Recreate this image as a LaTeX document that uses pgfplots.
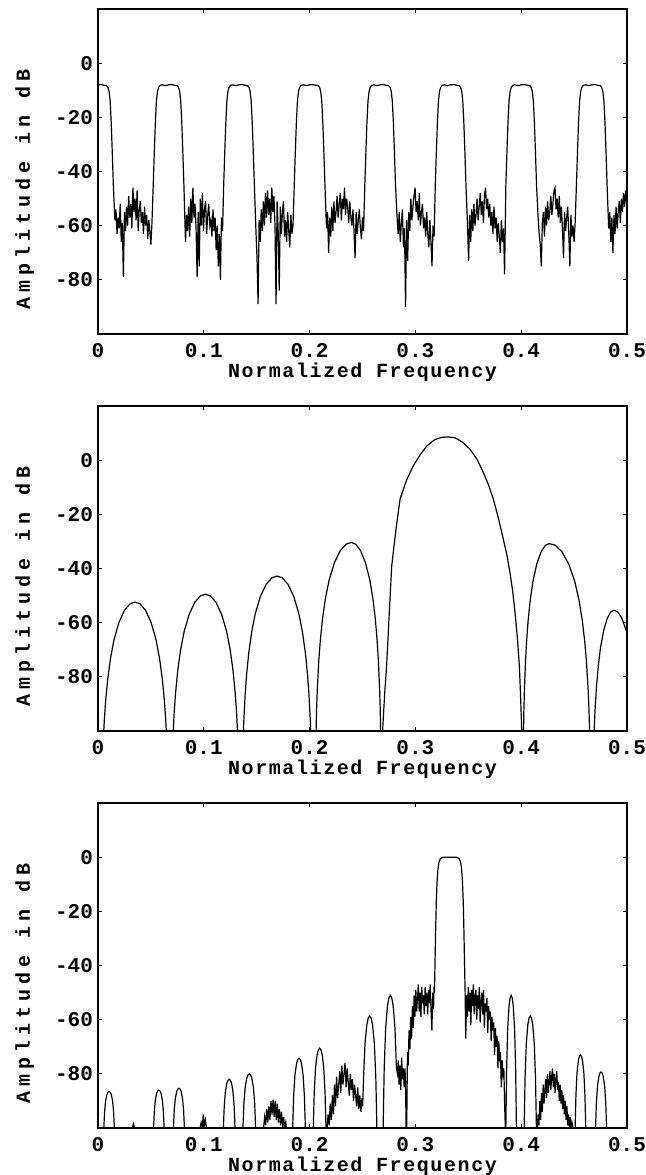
\documentclass[border=0pt]{standalone}
\usepackage{fontspec}
\setmainfont{Liberation Mono}
\usepackage{pgfplots}
\pgfplotsset{compat=1.18}
\pgfplotsset{myax/.style={
  width=264.5pt, height=162.5pt, scale only axis,
  xmin=0, xmax=0.5, ymin=-100, ymax=20,
  xtick={0,0.1,0.2,0.3,0.4,0.5}, xticklabels={0,0.1,0.2,0.3,0.4,0.5},
  ytick={-80,-60,-40,-20,0}, yticklabels={-80,-60,-40,-20,0},
  tick align=inside, major tick length=2pt,
  tick style={black, line width=0.5pt},
  axis line style={line width=0.8pt},
  tick label style={font=\fontsize{10.5pt}{12pt}\selectfont},
  xticklabel style={anchor=base, yshift=-11.6pt},
  yticklabel style={xshift=1pt},
  xlabel={Normalized Frequency},
  ylabel={Amplitude in dB},
  xlabel style={at={([yshift=-21.65pt]axis description cs:0.5,0)}, anchor=base, font={\addfontfeatures{LetterSpace=8}}},
  ylabel style={at={([xshift=-34pt,yshift=-8.75pt]axis description cs:0,0.5)}, anchor=base, font={\addfontfeatures{LetterSpace=25}}},
  cycle list={{black, mark=none, line width=0.6pt}},
}}
\begin{document}
\bfseries
\begin{tikzpicture}
\useasboundingbox (-49pt,-23.5pt) rectangle (273.5pt,564pt);
% ---------------- panel 1 ----------------
\begin{axis}[myax, at={(0pt,397pt)}, anchor=south west]
\addplot[black, mark=none, line width=0.6pt] coordinates {
(0,-8) (0.003,-7.9) (0.006,-8.2) (0.008,-8.3) (0.0095,-9) (0.0105,-10.5) (0.0115,-14) (0.0125,-22) (0.0135,-33) (0.0145,-45)
(0.016,-58) (0.017,-54) (0.018,-63) (0.019,-57) (0.020,-61) (0.021,-52) (0.022,-66) (0.023,-59) (0.024,-79) (0.025,-55) (0.026,-62) (0.027,-53) (0.028,-60) (0.029,-49) (0.030,-57) (0.031,-52) (0.032,-61) (0.033,-46) (0.034,-55) (0.035,-50) (0.036,-58) (0.037,-47) (0.038,-62) (0.039,-54) (0.040,-51) (0.041,-59) (0.042,-55) (0.043,-63) (0.044,-53) (0.045,-60) (0.046,-56) (0.047,-65) (0.048,-58) (0.049,-62) (0.050,-67) (0.051,-59)
(0.0522,-45) (0.0532,-33) (0.0542,-22) (0.0552,-14) (0.0562,-10.5) (0.0572,-9) (0.0587,-8.2) (0.0607,-8) (0.0637,-8.3) (0.0667,-8) (0.0697,-7.9) (0.0727,-8.2) (0.0747,-8.3) (0.0762,-9) (0.0772,-10.5) (0.0782,-14) (0.0792,-22) (0.0802,-33) (0.0812,-45)
(0.0827,-66) (0.0837,-56) (0.0847,-62) (0.0857,-53) (0.0867,-64) (0.0877,-50) (0.0887,-59) (0.0897,-46) (0.0907,-57) (0.0917,-52) (0.0927,-61) (0.0937,-79) (0.0947,-55) (0.0957,-75) (0.0967,-50) (0.0977,-60) (0.0987,-48) (0.0997,-62) (0.1007,-54) (0.1017,-51) (0.1027,-63) (0.1037,-56) (0.1047,-52) (0.1057,-60) (0.1067,-58) (0.1077,-64) (0.1087,-54) (0.1097,-62) (0.1107,-57) (0.1117,-69) (0.1127,-60) (0.1137,-75) (0.1147,-63) (0.1157,-80) (0.1167,-57) (0.1177,-62)
(0.1188,-45) (0.1198,-33) (0.1208,-22) (0.1218,-14) (0.1228,-10.5) (0.1238,-9) (0.1253,-8.2) (0.1273,-8) (0.1303,-8.3) (0.1333,-8) (0.1363,-7.9) (0.1393,-8.2) (0.1413,-8.3) (0.1428,-9) (0.1438,-10.5) (0.1448,-14) (0.1458,-22) (0.1468,-33) (0.1478,-45)
(0.1493,-62) (0.1503,-72) (0.1513,-89) (0.1523,-58) (0.1533,-66) (0.1543,-54) (0.1553,-62) (0.1563,-51) (0.1573,-60) (0.1583,-48) (0.1593,-57) (0.1603,-47) (0.1613,-56) (0.1623,-50) (0.1633,-59) (0.1643,-46) (0.1653,-55) (0.1663,-49) (0.1673,-60) (0.1683,-89) (0.1693,-51) (0.1703,-62) (0.1713,-84) (0.1723,-53) (0.1733,-63) (0.1743,-55) (0.1753,-51) (0.1763,-64) (0.1773,-58) (0.1783,-66) (0.1793,-55) (0.1803,-62) (0.1813,-68) (0.1823,-56) (0.1833,-63) (0.1843,-60)
(0.1855,-45) (0.1865,-33) (0.1875,-22) (0.1885,-14) (0.1895,-10.5) (0.1905,-9) (0.192,-8.2) (0.194,-8) (0.197,-8.3) (0.2,-8) (0.203,-7.9) (0.206,-8.2) (0.208,-8.3) (0.2095,-9) (0.2105,-10.5) (0.2115,-14) (0.2125,-22) (0.2135,-33) (0.2145,-45)
(0.216,-61) (0.217,-55) (0.218,-70) (0.219,-57) (0.220,-64) (0.221,-53) (0.222,-62) (0.223,-51) (0.224,-59) (0.225,-55) (0.226,-49) (0.227,-57) (0.228,-52) (0.229,-48) (0.230,-58) (0.231,-50) (0.232,-54) (0.233,-46) (0.234,-56) (0.235,-50) (0.236,-53) (0.237,-59) (0.238,-51) (0.239,-57) (0.240,-60) (0.241,-54) (0.242,-62) (0.243,-72) (0.244,-55) (0.245,-63) (0.246,-58) (0.247,-54) (0.248,-61) (0.249,-65) (0.250,-57) (0.251,-62)
(0.2522,-45) (0.2532,-33) (0.2542,-22) (0.2552,-14) (0.2562,-10.5) (0.2572,-9) (0.2587,-8.2) (0.2607,-8) (0.2637,-8.3) (0.2667,-8) (0.2697,-7.9) (0.2727,-8.2) (0.2747,-8.3) (0.2762,-9) (0.2772,-10.5) (0.2782,-14) (0.2792,-22) (0.2802,-33) (0.2812,-45)
(0.2827,-57) (0.2837,-63) (0.2847,-55) (0.2857,-66) (0.2867,-59) (0.2877,-54) (0.2887,-68) (0.2897,-61) (0.2907,-90) (0.2917,-58) (0.2927,-73) (0.2937,-55) (0.2947,-62) (0.2957,-50) (0.2967,-58) (0.2977,-53) (0.2987,-49) (0.2997,-46) (0.3007,-55) (0.3017,-51) (0.3027,-58) (0.3037,-48) (0.3047,-60) (0.3057,-55) (0.3067,-52) (0.3077,-61) (0.3087,-57) (0.3097,-64) (0.3107,-55) (0.3117,-63) (0.3127,-68) (0.3137,-58) (0.3147,-66) (0.3157,-75) (0.3167,-60) (0.3177,-64)
(0.3188,-45) (0.3198,-33) (0.3208,-22) (0.3218,-14) (0.3228,-10.5) (0.3238,-9) (0.3253,-8.2) (0.3273,-8) (0.3303,-8.3) (0.3333,-8) (0.3363,-7.9) (0.3393,-8.2) (0.3413,-8.3) (0.3428,-9) (0.3438,-10.5) (0.3448,-14) (0.3458,-22) (0.3468,-33) (0.3478,-45)
(0.3493,-60) (0.3503,-73) (0.3513,-56) (0.3523,-66) (0.3533,-54) (0.3543,-62) (0.3553,-52) (0.3563,-60) (0.3573,-56) (0.3583,-50) (0.3593,-58) (0.3603,-53) (0.3613,-48) (0.3623,-56) (0.3633,-51) (0.3643,-59) (0.3653,-49) (0.3663,-46) (0.3673,-54) (0.3683,-50) (0.3693,-57) (0.3703,-52) (0.3713,-60) (0.3723,-55) (0.3733,-63) (0.3743,-53) (0.3753,-61) (0.3763,-57) (0.3773,-66) (0.3783,-59) (0.3793,-64) (0.3803,-70) (0.3813,-58) (0.3823,-66) (0.3833,-61) (0.3843,-78)
(0.3855,-45) (0.3865,-33) (0.3875,-22) (0.3885,-14) (0.3895,-10.5) (0.3905,-9) (0.392,-8.2) (0.394,-8) (0.397,-8.3) (0.4,-8) (0.403,-7.9) (0.406,-8.2) (0.408,-8.3) (0.4095,-9) (0.4105,-10.5) (0.4115,-14) (0.4125,-22) (0.4135,-33) (0.4145,-45)
(0.416,-57) (0.417,-63) (0.418,-67) (0.419,-75) (0.420,-59) (0.421,-55) (0.422,-64) (0.423,-53) (0.424,-60) (0.425,-51) (0.426,-58) (0.427,-55) (0.428,-49) (0.429,-56) (0.430,-52) (0.431,-47) (0.432,-46) (0.433,-54) (0.434,-50) (0.435,-57) (0.436,-49) (0.437,-59) (0.438,-53) (0.439,-61) (0.440,-72) (0.441,-55) (0.442,-62) (0.443,-57) (0.444,-53) (0.445,-63) (0.446,-75) (0.447,-56) (0.448,-64) (0.449,-60) (0.450,-66) (0.451,-59)
(0.4522,-45) (0.4532,-33) (0.4542,-22) (0.4552,-14) (0.4562,-10.5) (0.4572,-9) (0.4587,-8.2) (0.4607,-8) (0.4637,-8.3) (0.4667,-8) (0.4697,-7.9) (0.4727,-8.2) (0.4747,-8.3) (0.4762,-9) (0.4772,-10.5) (0.4782,-14) (0.4792,-22) (0.4802,-33) (0.4812,-45)
(0.4827,-61) (0.4837,-55) (0.4847,-66) (0.4857,-57) (0.4867,-70) (0.4877,-56) (0.4887,-63) (0.4897,-53) (0.4907,-61) (0.4917,-55) (0.4927,-51) (0.4937,-59) (0.4947,-50) (0.4957,-55) (0.4967,-48) (0.4977,-53) (0.4987,-47) (0.4997,-52) (0.5,-47)
};
\end{axis}
% ---------------- panel 2 ----------------
\begin{axis}[myax, at={(0pt,198.5pt)}, anchor=south west]
\addplot[black, mark=none, line width=0.6pt] coordinates {
(0,-130) (0.002,-130)
(0.00398,-114) (0.00464,-106.5) (0.00596,-96) (0.00728,-88.7) (0.00926,-80.6) (0.0119,-73) (0.0152,-66.2) (0.01982,-59.9) (0.0251,-55.4) (0.03038,-53) (0.035,-52.4) (0.03962,-53) (0.0449,-55.4) (0.05018,-59.9) (0.0548,-66.2) (0.0581,-73) (0.06074,-80.6) (0.06272,-88.7) (0.06404,-96) (0.06536,-106.5) (0.06602,-114) (0.068,-130)
(0.07001,-111.1) (0.07068,-103.6) (0.07202,-93.1) (0.07336,-85.8) (0.07537,-77.7) (0.07805,-70.1) (0.0814,-63.3) (0.08609,-57) (0.09145,-52.5) (0.09681,-50.1) (0.1015,-49.5) (0.10619,-50.1) (0.11155,-52.5) (0.11691,-57) (0.1216,-63.3) (0.12495,-70.1) (0.12763,-77.7) (0.12964,-85.8) (0.13098,-93.1) (0.13232,-103.6) (0.13299,-111.1) (0.135,-130)
(0.13706,-104.4) (0.13774,-96.9) (0.13911,-86.4) (0.14048,-79.1) (0.14254,-71) (0.14528,-63.4) (0.1487,-56.6) (0.1535,-50.3) (0.15898,-45.8) (0.16446,-43.4) (0.16925,-42.8) (0.17405,-43.4) (0.17953,-45.8) (0.18501,-50.3) (0.1898,-56.6) (0.19323,-63.4) (0.19597,-71) (0.19802,-79.1) (0.19939,-86.4) (0.20076,-96.9) (0.20145,-104.4) (0.2035,-130) (0.2045,-130)
(0.20555,-110) (0.2066,-92) (0.2073,-84.5) (0.2087,-74) (0.2101,-66.7) (0.2122,-58.6) (0.2150,-51) (0.2185,-44.2) (0.2234,-37.9) (0.2290,-33.4) (0.2346,-31) (0.2395,-30.4) (0.24356,-31) (0.2482,-33.4) (0.25284,-37.9) (0.2569,-44.2) (0.2598,-51) (0.26212,-58.6) (0.26386,-66.7) (0.26502,-74) (0.26618,-84.5) (0.26676,-92) (0.26763,-110) (0.2685,-130)
(0.2688,-110) (0.2690,-100) (0.2710,-86) (0.2728,-76) (0.2755,-55) (0.2776,-39.1) (0.2815,-26) (0.2855,-14.4) (0.2915,-7.5) (0.298,-2.1) (0.3045,2) (0.3107,5.2) (0.318,7.5) (0.3245,8.4) (0.3311,8.6) (0.338,8.2) (0.345,6.5) (0.3516,4) (0.358,0.5) (0.3642,-4.5) (0.369,-9) (0.3737,-14.4) (0.3785,-21.5) (0.3831,-29.2) (0.3865,-35) (0.3894,-41.5) (0.392,-48.5) (0.3942,-56.3) (0.3965,-66) (0.3983,-76) (0.3995,-88) (0.4005,-100) (0.401,-130)
(0.40177,-110.4) (0.40253,-92.4) (0.40304,-84.9) (0.40406,-74.4) (0.40508,-67.1) (0.40661,-59) (0.40865,-51.4) (0.4112,-44.6) (0.41477,-38.3) (0.41885,-33.8) (0.42293,-31.4) (0.4265,-30.8) (0.4321,-31.4) (0.4385,-33.8) (0.4449,-38.3) (0.4505,-44.6) (0.4545,-51.4) (0.4577,-59) (0.4601,-67.1) (0.4617,-74.4) (0.4633,-84.9) (0.4641,-92.4) (0.4653,-110) (0.4665,-130)
(0.4682,-109.5) (0.46904,-99) (0.46989,-91.7) (0.47116,-83.6) (0.47286,-76) (0.47498,-69.2) (0.47795,-62.9) (0.48134,-58.4) (0.48473,-56) (0.4877,-55.4) (0.49121,-56) (0.49523,-58.4) (0.49925,-62.9) (0.5,-63.5)
};
\end{axis}
% ---------------- panel 3 ----------------
\begin{axis}[myax, at={(0pt,0pt)}, anchor=south west]
\addplot[black, mark=none, line width=0.6pt] coordinates {
(0,-100) (0.0055,-100)
(0.00625,-93.9) (0.00725,-89.9) (0.0085,-87.6) (0.0095,-86.8) (0.0105,-86.5) (0.0115,-86.8) (0.0125,-87.6) (0.01375,-89.9) (0.01475,-93.9) (0.0155,-100)
(0.0325,-100) (0.0335,-98.5) (0.0345,-100)
(0.0525,-100) (0.05325,-93.7) (0.05425,-89.5) (0.0555,-87.1) (0.0565,-86.3) (0.0575,-86) (0.0585,-86.3) (0.0595,-87.1) (0.06075,-89.5) (0.06175,-93.7) (0.0625,-100)
(0.0713,-100) (0.07208,-93.4) (0.07312,-89) (0.07442,-86.5) (0.07546,-85.6) (0.0765,-85.3) (0.07754,-85.6) (0.07858,-86.5) (0.07988,-89) (0.08092,-93.4) (0.0817,-100)
(0.0965,-100) (0.0975,-98) (0.0985,-100) (0.0995,-95) (0.1005,-99) (0.1015,-97) (0.1025,-100)
(0.1185,-100) (0.11933,-91.9) (0.12043,-86.5) (0.1218,-83.4) (0.1229,-82.4) (0.124,-82) (0.1251,-82.4) (0.1262,-83.4) (0.12758,-86.5) (0.12868,-91.9) (0.1295,-100)
(0.137,-100) (0.1379,-91) (0.1391,-85) (0.1406,-81.6) (0.1418,-80.4) (0.143,-80) (0.1442,-80.4) (0.1454,-81.6) (0.1469,-85) (0.1481,-91) (0.149,-100)
(0.1565,-100) (0.1575,-96) (0.1585,-99) (0.1595,-93) (0.1605,-98) (0.1615,-92) (0.1625,-97) (0.1635,-90) (0.1645,-95) (0.1655,-89.5) (0.1665,-96) (0.1675,-90) (0.1685,-97) (0.1695,-91) (0.1705,-98) (0.1715,-93) (0.1725,-99) (0.1735,-94) (0.1745,-100) (0.1755,-96) (0.1765,-100) (0.1775,-98) (0.178,-100)
(0.184,-100) (0.1849,-88.4) (0.1861,-80.6) (0.1876,-76.3) (0.1888,-74.7) (0.190,-74.2) (0.1912,-74.7) (0.1924,-76.3) (0.1939,-80.6) (0.1951,-88.4) (0.196,-100)
(0.2035,-100) (0.2044,-86.7) (0.2056,-77.9) (0.2071,-72.9) (0.2083,-71.1) (0.2095,-70.5) (0.2107,-71.1) (0.2119,-72.9) (0.2134,-77.9) (0.2146,-86.7) (0.2155,-100)
(0.2165,-100) (0.2175,-95) (0.2185,-99) (0.2195,-91) (0.2205,-97) (0.2215,-88) (0.2225,-95) (0.2235,-84) (0.2245,-92) (0.2255,-81) (0.2265,-89) (0.2275,-84) (0.2285,-79) (0.2295,-87) (0.2305,-77) (0.2315,-84) (0.2325,-80) (0.2335,-76) (0.2345,-85) (0.2355,-78) (0.2365,-83) (0.2375,-88) (0.2385,-80) (0.2395,-86) (0.2405,-82) (0.2415,-90) (0.2425,-84) (0.2435,-88) (0.2445,-92) (0.2455,-85) (0.2465,-93) (0.2475,-88) (0.2485,-94) (0.2495,-89)
(0.2502,-92) (0.2510,-81.4) (0.25238,-68.9) (0.25408,-61.9) (0.25544,-59.4) (0.2568,-58.6) (0.25816,-59.4) (0.25952,-61.9) (0.26122,-68.9) (0.2626,-81.4) (0.2636,-100)
(0.2695,-100) (0.27052,-77.9) (0.2719,-63.2) (0.2736,-54.9) (0.27494,-52) (0.2763,-51) (0.27766,-52) (0.27902,-54.9) (0.28072,-63.2) (0.2821,-77.9) (0.2831,-80)
(0.2838,-75) (0.2846,-84) (0.2854,-77) (0.2862,-86) (0.287,-74) (0.2878,-82) (0.2886,-78) (0.2894,-85) (0.2902,-78) (0.2908,-86) (0.2912,-100) (0.2918,-100)
(0.2925,-72) (0.2932,-77) (0.294,-64) (0.2948,-71) (0.2956,-59) (0.2964,-67) (0.2972,-55) (0.298,-63) (0.2988,-51) (0.2996,-59) (0.3004,-49) (0.3012,-57) (0.302,-52) (0.3028,-47) (0.3036,-57) (0.3044,-50) (0.3052,-59) (0.306,-48) (0.3068,-54) (0.3076,-51) (0.3084,-58) (0.3092,-48) (0.31,-55) (0.3108,-50) (0.3116,-58) (0.3124,-49) (0.3132,-54) (0.314,-47) (0.3148,-57) (0.3156,-64) (0.3164,-50) (0.3172,-56) (0.3176,-48)
(0.318,-50) (0.3186,-38) (0.3192,-26) (0.3198,-16) (0.3205,-9) (0.3213,-4.5) (0.3222,-2) (0.3235,-0.6) (0.326,0) (0.3325,0) (0.339,0) (0.3415,-0.6) (0.3428,-2) (0.3437,-4.5) (0.3445,-9) (0.3452,-16) (0.3458,-26) (0.3464,-38) (0.347,-50)
(0.3476,-67) (0.3484,-51) (0.3492,-59) (0.35,-48) (0.3508,-57) (0.3516,-50) (0.3524,-62) (0.3532,-49) (0.354,-55) (0.3548,-47) (0.3556,-58) (0.3564,-52) (0.3572,-49) (0.358,-60) (0.3588,-51) (0.3596,-56) (0.3604,-48) (0.3612,-61) (0.362,-53) (0.3628,-50) (0.3636,-58) (0.3644,-49) (0.3652,-63) (0.366,-54) (0.3668,-57) (0.3676,-52) (0.3684,-65) (0.3692,-55) (0.37,-60) (0.3708,-57) (0.3716,-68) (0.3724,-59) (0.3732,-64) (0.374,-61) (0.3748,-73) (0.3756,-63) (0.3764,-70) (0.3772,-66) (0.378,-78) (0.3788,-68) (0.3796,-74) (0.3804,-72) (0.3812,-85) (0.382,-75) (0.3828,-80) (0.3836,-78) (0.3844,-92) (0.385,-100)
(0.3855,-100) (0.38625,-77.9) (0.38725,-63.2) (0.3885,-54.9) (0.3895,-52) (0.3905,-51) (0.3915,-52) (0.3925,-54.9) (0.39375,-63.2) (0.39475,-77.9) (0.3955,-100)
(0.4028,-100) (0.40367,-81.4) (0.40483,-68.9) (0.40628,-61.9) (0.40744,-59.4) (0.4086,-58.6) (0.40976,-59.4) (0.41092,-61.9) (0.41237,-68.9) (0.41353,-81.4) (0.4144,-100)
(0.4152,-100) (0.416,-95) (0.4168,-99) (0.4176,-90) (0.4184,-97) (0.4192,-87) (0.42,-94) (0.4208,-84) (0.4216,-91) (0.4224,-86) (0.4232,-82) (0.424,-89) (0.4248,-80) (0.4256,-87) (0.4264,-83) (0.4272,-79) (0.428,-86) (0.4288,-81) (0.4296,-78) (0.4304,-85) (0.4312,-80) (0.432,-87) (0.4328,-82) (0.4336,-79) (0.4344,-86) (0.4352,-83) (0.436,-90) (0.4368,-84) (0.4376,-91) (0.4384,-86) (0.4392,-93) (0.44,-88) (0.4408,-95) (0.4416,-90) (0.4424,-97) (0.4432,-92) (0.444,-99) (0.4448,-95) (0.4456,-100) (0.4464,-96) (0.4472,-100) (0.448,-98) (0.449,-100)
(0.451,-100) (0.45175,-87.8) (0.45275,-79.7) (0.454,-75.2) (0.455,-73.5) (0.456,-73) (0.457,-73.5) (0.458,-75.2) (0.45925,-79.7) (0.46025,-87.8) (0.461,-100)
(0.4703,-100) (0.47108,-90.7) (0.47212,-84.5) (0.47342,-81) (0.47446,-79.7) (0.4755,-79.3) (0.47654,-79.7) (0.47758,-81) (0.47888,-84.5) (0.47992,-90.7) (0.4807,-100)
(0.5,-100)
};
\end{axis}
\end{tikzpicture}
\end{document}
